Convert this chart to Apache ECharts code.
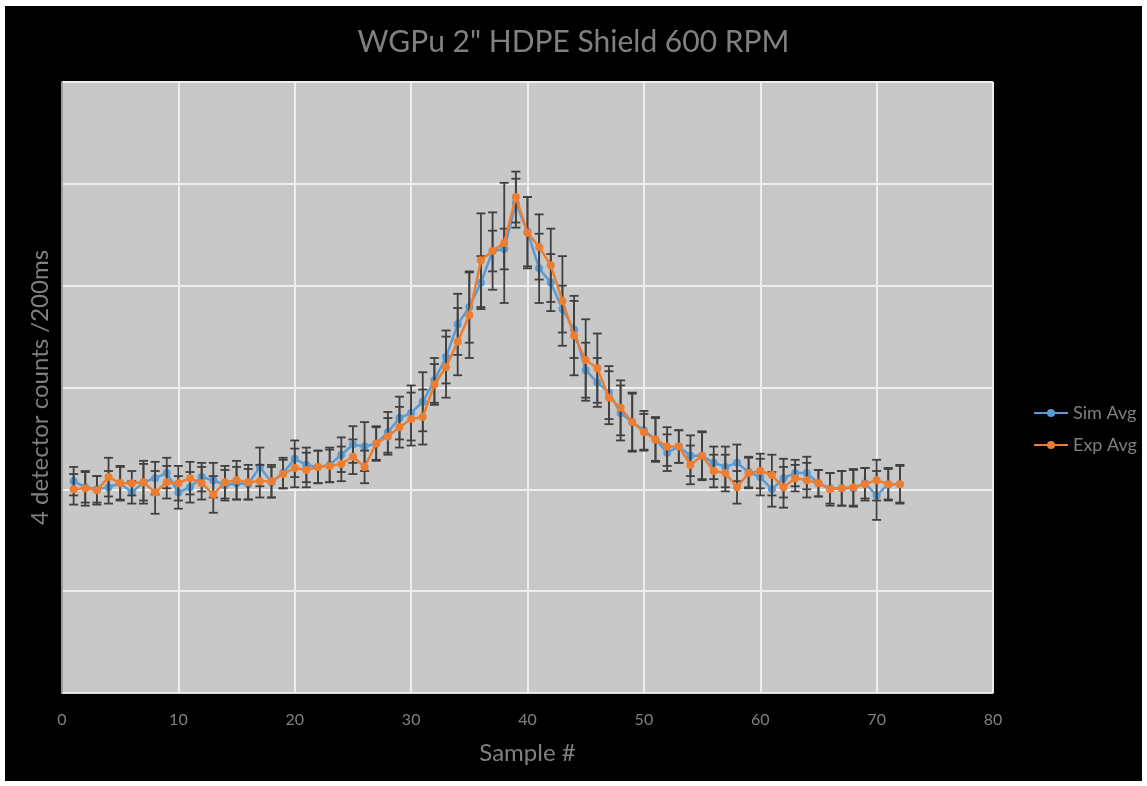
<!DOCTYPE html>
<html>
<head>
<meta charset="utf-8">
<script src="https://cdn.jsdelivr.net/npm/echarts@6/dist/echarts.min.js"></script>
<style>
  html, body { margin: 0; padding: 0; background: #ffffff; width: 1147px; height: 786px; overflow: hidden; }
  #chart { position: absolute; left: 5px; top: 6px; width: 1137px; height: 775px; }
</style>
</head>
<body>
<div id="chart"></div>
<script>
const titleText = 'WGPu 2" HDPE Shield 600 RPM';
const xAxisTitle = 'Sample #';
const yAxisTitle = '4 detector counts /200ms';
const seriesNames = ['Sim Avg', 'Exp Avg'];

const samples = [1,2,3,4,5,6,7,8,9,10,11,12,13,14,15,16,17,18,19,20,21,22,23,24,
  25,26,27,28,29,30,31,32,33,34,35,36,37,38,39,40,41,42,43,44,45,46,47,48,
  49,50,51,52,53,54,55,56,57,58,59,60,61,62,63,64,65,66,67,68,69,70,71,72];

const simAvg = [20.8,20.2,20.0,20.2,20.6,19.7,20.7,21.1,21.6,19.7,20.2,21.2,20.9,20.4,20.6,20.5,
  22.2,20.7,21.6,23.0,22.4,22.2,22.4,23.4,24.4,24.2,24.5,25.6,27.0,27.5,28.6,30.7,
  33.0,36.2,37.9,40.3,43.4,43.6,48.1,45.3,41.7,40.3,37.7,35.7,31.7,30.5,29.5,27.5,
  26.6,25.8,24.9,23.6,24.2,23.3,23.3,22.6,22.2,22.6,21.7,21.2,20.0,21.1,21.6,21.6,
  20.6,20.1,20.1,20.1,20.6,19.4,20.5,20.5];

const expAvg = [20.0,20.1,19.9,21.2,20.6,20.6,20.7,19.7,20.7,20.6,21.1,20.6,19.5,20.7,20.9,20.7,
  20.8,20.8,21.5,22.1,21.9,22.2,22.3,22.5,23.2,22.2,24.5,25.2,26.1,26.9,27.1,30.3,
  32.0,34.5,37.1,42.5,43.4,44.2,48.7,45.2,43.8,42.0,38.5,35.1,32.7,31.9,29.0,28.0,
  26.6,25.6,24.9,24.2,24.2,22.4,23.3,21.8,21.6,20.2,21.6,21.8,21.4,20.2,21.1,20.9,
  20.6,20.0,20.1,20.2,20.5,20.9,20.5,20.5];

const simErr = [1.4,1.5,1.3,1.6,1.6,1.1,1.8,1.6,1.5,1.6,1.5,1.4,1.7,1.5,1.6,1.5,
  1.9,1.5,1.5,1.8,1.7,1.6,1.7,1.7,1.8,2.4,1.7,2.0,2.1,2.7,2.9,2.2,
  2.6,3.0,3.5,2.6,2.0,2.0,2.4,3.4,3.4,2.8,2.3,2.8,2.7,2.4,2.6,2.7,
  2.8,1.9,2.1,1.8,1.6,2.0,2.3,1.6,2.0,1.8,1.5,1.8,1.7,1.9,1.3,1.6,
  1.3,1.5,1.7,1.8,1.5,2.4,1.5,1.8];

const expErr = [1.5,1.7,1.4,1.9,1.7,1.2,2.1,2.1,1.6,1.7,1.6,1.6,1.8,1.6,1.9,1.7,
  1.6,1.6,1.4,1.9,1.7,1.6,1.6,1.7,1.7,1.6,1.6,1.8,2.0,2.6,2.7,2.0,
  3.0,3.3,4.2,4.6,3.8,5.9,2.5,3.5,3.2,3.6,4.4,3.9,4.0,3.4,2.6,2.7,
  2.9,1.8,2.2,1.9,1.6,1.9,2.4,1.6,1.8,1.6,1.5,1.7,2.0,2.0,1.3,1.7,
  1.3,1.6,1.7,1.8,1.6,2.0,1.6,1.9];

const xTicks = [0,10,20,30,40,50,60,70,80];

const chart = echarts.init(document.getElementById('chart'), null, { renderer: 'canvas' });

function lineData(vals) { return samples.map((s, i) => [s, vals[i]]); }
function errData(vals, errs) { return samples.map((s, i) => [s, vals[i] - errs[i], vals[i] + errs[i]]); }

function renderErr(params, api) {
  const x = api.value(0);
  const lo = api.coord([x, api.value(1)]);
  const hi = api.coord([x, api.value(2)]);
  const cap = 4.5;
  const style = { stroke: '#404040', lineWidth: 1.8 };
  return {
    type: 'group',
    children: [
      { type: 'line', shape: { x1: lo[0], y1: lo[1], x2: hi[0], y2: hi[1] }, style: style },
      { type: 'line', shape: { x1: lo[0] - cap, y1: lo[1], x2: lo[0] + cap, y2: lo[1] }, style: style },
      { type: 'line', shape: { x1: hi[0] - cap, y1: hi[1], x2: hi[0] + cap, y2: hi[1] }, style: style }
    ]
  };
}

const fontFam = 'Lato, "Open Sans", sans-serif';
const textGray = '#808080';

chart.setOption({
  backgroundColor: '#000000',
  animation: false,
  title: {
    text: titleText,
    left: 'center',
    top: 16,
    textStyle: { color: textGray, fontSize: 30, fontWeight: 'normal', fontFamily: fontFam }
  },
  legend: {
    data: seriesNames,
    orient: 'vertical',
    left: 1023,
    top: 393,
    itemGap: 14,
    itemWidth: 34,
    itemHeight: 10,
    textStyle: { color: textGray, fontSize: 18, fontFamily: fontFam }
  },
  grid: { left: 57, top: 76, width: 931, height: 611, backgroundColor: '#c8c8c8', show: true, borderWidth: 0 },
  xAxis: {
    type: 'value',
    min: 0, max: 80, interval: 10,
    name: xAxisTitle,
    nameLocation: 'middle',
    nameGap: 48,
    nameTextStyle: { color: textGray, fontSize: 24, fontFamily: fontFam },
    axisLine: { show: true, lineStyle: { color: '#d9d9d9', width: 1 } },
    axisTick: { show: false },
    axisLabel: { color: textGray, fontSize: 16, margin: 19, fontFamily: fontFam },
    splitLine: { show: true, lineStyle: { color: '#eeeeee', width: 2 } }
  },
  yAxis: {
    type: 'value',
    min: 0, max: 60, interval: 10,
    name: yAxisTitle,
    nameLocation: 'middle',
    nameGap: 10,
    nameTextStyle: { color: textGray, fontSize: 24, fontFamily: fontFam },
    axisLine: { show: true, lineStyle: { color: '#7f7f7f', width: 1.5 } },
    axisTick: { show: false },
    axisLabel: { show: false },
    splitLine: { show: true, lineStyle: { color: '#eeeeee', width: 2 } }
  },
  series: [
    {
      name: seriesNames[0], type: 'line', data: lineData(simAvg), z: 3,
      symbol: 'circle', symbolSize: 8,
      itemStyle: { color: '#5B9BD5' }, lineStyle: { color: '#5B9BD5', width: 2.5 }
    },
    {
      name: 'simErr', type: 'custom', data: errData(simAvg, simErr), z: 4,
      renderItem: renderErr, encode: { x: 0, y: [1, 2] }
    },
    {
      name: 'expErr', type: 'custom', data: errData(expAvg, expErr), z: 5,
      renderItem: renderErr, encode: { x: 0, y: [1, 2] }
    },
    {
      name: seriesNames[1], type: 'line', data: lineData(expAvg), z: 6,
      symbol: 'circle', symbolSize: 8,
      itemStyle: { color: '#ED7D31' }, lineStyle: { color: '#ED7D31', width: 2.5 }
    }
  ]
});
</script>
</body>
</html>
